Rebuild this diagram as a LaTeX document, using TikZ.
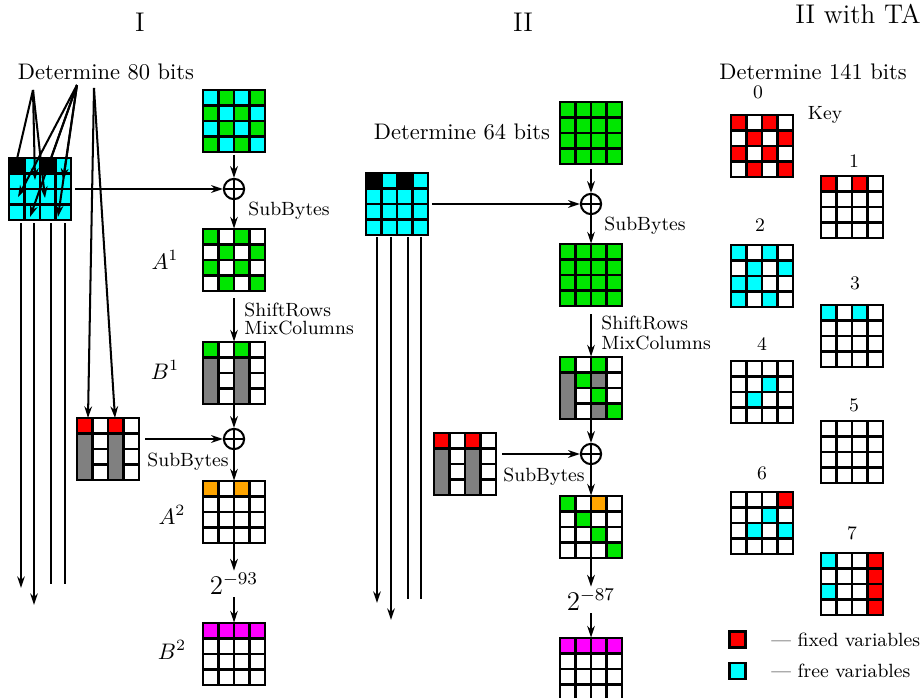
\documentclass[tikz,border=0pt]{standalone}
\usetikzlibrary{arrows.meta}
\definecolor{cg}{RGB}{0,230,0}
\definecolor{cc}{RGB}{0,255,255}
\definecolor{cr}{RGB}{255,0,0}
\definecolor{cw}{RGB}{255,255,255}
\definecolor{ck}{RGB}{0,0,0}
\definecolor{co}{RGB}{255,165,0}
\definecolor{cm}{RGB}{255,0,255}
\definecolor{ca}{RGB}{128,128,128}
\tikzset{
  gridline/.style={line width=1.1pt,draw=black},
  box/.style={minimum width=27.55pt,minimum height=27.55pt,inner sep=0pt,draw=none},
  arr/.style={line width=0.9pt,-{Stealth[length=5.2pt,width=3.4pt]}},
  ln/.style={line width=0.9pt},
  xor/.style={draw,circle,line width=0.9pt,minimum size=9pt,inner sep=0pt,
    path picture={\draw[line width=0.9pt] (path picture bounding box.north) -- (path picture bounding box.south)
      (path picture bounding box.west) -- (path picture bounding box.east);}},
  lab/.style={font=\fontsize{8.5}{10}\selectfont,inner sep=0pt},
  ttl/.style={font=\large,inner sep=0pt},
}
\newcommand\grd[4]{%
  \foreach \cl [count=\i from 0] in {#4}{%
    \pgfmathtruncatemacro\gR{int(\i/4)}%
    \pgfmathtruncatemacro\gC{mod(\i,4)}%
    \draw[gridline,fill=\cl] ({#2+\gC*15.5},{#3+\gR*15.5}) rectangle ++(15.5,15.5);%
  }%
  \node[box] (#1) at (#2+31,#3+31) {};%
}
\newcommand\gcol[3]{\draw[gridline,fill=ca] ({#1+#3*15.5},{#2+15.5}) rectangle ++(15.5,46.5);}
\begin{document}
\begin{tikzpicture}[x=0.4444pt,y=-0.4444pt]
\useasboundingbox (0,0) rectangle (920,698);
% titles
\node[ttl] (t1) at (140,22) {I};
\node[ttl] (t2) at (523,22) {II};
\node[ttl] (t3) at (858,14) {II with TA};

% ===== Column I =====
\node[inner sep=1pt] (d80) at (106,72) {Determine 80 bits};
\grd{g1}{203}{90}{cc,cg,cc,cg,cg,cc,cg,cc,cc,cg,cc,cg,cg,cc,cg,cc}
\node[xor] (x1) at (234,189) {};
\grd{s1}{9}{158}{ck,cc,ck,cc,cc,cc,cc,cc,cc,cc,cc,cc,cc,cc,cc,cc}
\grd{a1}{203}{229}{cg,cw,cg,cw,cw,cg,cw,cg,cg,cw,cg,cw,cw,cg,cw,cg}
\node (la1) at (165,260) {$A^1$};
\grd{b1}{203}{342}{cg,cw,cg,cw,cw,cw,cw,cw,cw,cw,cw,cw,cw,cw,cw,cw}
\gcol{203}{342}{0}\gcol{203}{342}{2}
\node (lb1) at (165,370) {$B^1$};
\node[xor] (x2) at (234,439) {};
\grd{k1}{77}{418}{cr,cw,cr,cw,cw,cw,cw,cw,cw,cw,cw,cw,cw,cw,cw,cw}
\gcol{77}{418}{0}\gcol{77}{418}{2}
\grd{a2}{203}{481}{co,cw,co,cw,cw,cw,cw,cw,cw,cw,cw,cw,cw,cw,cw,cw}
\node (la2) at (172,515) {$A^2$};
\node[font=\large,inner sep=1pt] (p1) at (234,584) {$2^{-93}$};
\grd{b2}{203}{623}{cm,cm,cm,cm,cw,cw,cw,cw,cw,cw,cw,cw,cw,cw,cw,cw}
\node (lb2) at (172,650) {$B^2$};

\node[lab,anchor=west] (sb1) at (248,211) {SubBytes};
\node[lab,anchor=west] (sr1) at (244,310) {ShiftRows};
\node[lab,anchor=west] (mc1) at (244,328) {MixColumns};
\node[lab,anchor=west] (sb2) at (147,462) {SubBytes};

\draw[arr,shorten <=1pt] (g1.south) -- (x1.north);
\draw[arr,shorten <=1.5pt] (s1.east |- x1.west) -- (x1.west);
\draw[arr] (x1.south) -- (a1.north);
\draw[arr,shorten <=3pt] (a1.south) -- (b1.north);
\draw[arr] (b1.south) -- (x2.north);
\draw[arr,shorten <=2.5pt] (k1.east |- x2.west) -- (x2.west);
\draw[arr] (x2.south) -- (a2.north);
\draw[arr] (a2.south) -- (p1.north);
\draw[arr] (p1.south) -- (b2.north);

% fan of arrows into s1
\coordinate (pa) at (33,90);
\coordinate (pb) at (77,85);
\coordinate (pc) at (94,88);
\coordinate (e1) at (14,172);
\coordinate (e2) at (35,180);
\coordinate (e3) at (45,198);
\coordinate (e4) at (18,197);
\coordinate (e5) at (30,217);
\coordinate (e6) at (58,217);
\coordinate (e7) at (63,180);
\coordinate (e8) at (47,170);
\foreach \e in {e1,e2,e3} \draw[arr] (pa) -- (\e);
\foreach \e in {e4,e5,e6,e7,e8} \draw[arr] (pb) -- (\e);
\coordinate (k1a) at (88,418);
\coordinate (k1b) at (115,418);
\draw[arr] (pc) -- (k1a);
\draw[arr] (pc) -- (k1b);
% vertical lines under s1
\coordinate (v1s) at (21,223); \coordinate (v1e) at (21,588);
\coordinate (v2s) at (34,223); \coordinate (v2e) at (34,605);
\coordinate (v3s) at (51,223); \coordinate (v3e) at (51,584);
\coordinate (v4s) at (65,223); \coordinate (v4e) at (65,584);
\draw[arr] (v1s) -- (v1e);
\draw[arr] (v2s) -- (v2e);
\draw[ln] (v3s) -- (v3e);
\draw[ln] (v4s) -- (v4e);

% ===== Column II =====
\node[inner sep=1pt] (d64) at (462,132) {Determine 64 bits};
\grd{g2}{560}{102}{cg,cg,cg,cg,cg,cg,cg,cg,cg,cg,cg,cg,cg,cg,cg,cg}
\node[xor] (x3) at (591,204) {};
\grd{s2}{366}{173}{ck,cc,ck,cc,cc,cc,cc,cc,cc,cc,cc,cc,cc,cc,cc,cc}
\grd{a3}{560}{244}{cg,cg,cg,cg,cg,cg,cg,cg,cg,cg,cg,cg,cg,cg,cg,cg}
\grd{b3}{560}{357}{cg,cw,cg,cw,ca,cg,ca,cw,ca,cw,cg,cw,ca,cw,ca,cg}
\gcol{560}{357}{0}
\node[xor] (x4) at (591,454) {};
\grd{k2}{434}{433}{cr,cw,cr,cw,cw,cw,cw,cw,cw,cw,cw,cw,cw,cw,cw,cw}
\gcol{434}{433}{0}\gcol{434}{433}{2}
\grd{a4}{560}{496}{cg,cw,co,cw,cw,cg,cw,cw,cw,cw,cg,cw,cw,cw,cw,cg}
\node[font=\large,inner sep=1pt] (p2) at (591,600) {$2^{-87}$};
\grd{b4}{560}{638}{cm,cm,cm,cm,cw,cw,cw,cw,cw,cw,cw,cw,cw,cw,cw,cw}

\node[lab,anchor=west] (sb3) at (604,226) {SubBytes};
\node[lab,anchor=west] (sr2) at (601,323) {ShiftRows};
\node[lab,anchor=west] (mc2) at (601,343) {MixColumns};
\node[lab,anchor=west] (sb4) at (503,477) {SubBytes};

\draw[arr,shorten <=2pt] (g2.south) -- (x3.north);
\draw[arr,shorten <=1.5pt] (s2.east |- x3.west) -- (x3.west);
\draw[arr] (x3.south) -- (a3.north);
\draw[arr,shorten <=3.5pt] (a3.south) -- (b3.north);
\draw[arr] (b3.south) -- (x4.north);
\draw[arr,shorten <=2.5pt] (k2.east |- x4.west) -- (x4.west);
\draw[arr] (x4.south) -- (a4.north);
\draw[arr] (a4.south) -- (p2.north);
\draw[arr] (p2.south) -- (b4.north);

\coordinate (w1s) at (377,237); \coordinate (w1e) at (377,603);
\coordinate (w2s) at (391,237); \coordinate (w2e) at (391,620);
\coordinate (w3s) at (408,237); \coordinate (w3e) at (408,599);
\coordinate (w4s) at (421,237); \coordinate (w4e) at (421,599);
\draw[arr] (w1s) -- (w1e);
\draw[arr] (w2s) -- (w2e);
\draw[ln] (w3s) -- (w3e);
\draw[ln] (w4s) -- (w4e);

% ===== Column III =====
\node[inner sep=1pt] (d141) at (813,72) {Determine 141 bits};
\grd{t0}{731}{115}{cr,cw,cr,cw,cw,cr,cw,cr,cr,cw,cr,cw,cw,cr,cw,cr}
\grd{t1}{821}{176}{cr,cw,cr,cw,cw,cw,cw,cw,cw,cw,cw,cw,cw,cw,cw,cw}
\grd{t2}{731}{245}{cc,cw,cc,cw,cw,cc,cw,cc,cc,cc,cw,cw,cc,cw,cc,cw}
\grd{t3}{821}{305}{cc,cw,cc,cw,cw,cw,cw,cw,cw,cw,cw,cw,cw,cw,cw,cw}
\grd{t4}{731}{361}{cw,cw,cw,cw,cw,cw,cc,cw,cw,cc,cw,cw,cw,cw,cw,cw}
\grd{t5}{821}{421}{cw,cw,cw,cw,cw,cw,cw,cw,cw,cw,cw,cw,cw,cw,cw,cw}
\grd{t6}{731}{492}{cw,cw,cw,cr,cw,cw,cc,cw,cw,cc,cw,cc,cw,cw,cw,cw}
\grd{t7}{821}{553}{cc,cw,cw,cr,cw,cw,cw,cr,cc,cw,cw,cr,cw,cw,cw,cr}
\node[lab] (l0) at (758,92) {0};
\node[lab] (lk) at (825,115) {Key};
\node[lab] (l1) at (854,161) {1};
\node[lab] (l2) at (760,225) {2};
\node[lab] (l3) at (855,283) {3};
\node[lab] (l4) at (762,344) {4};
\node[lab] (l5) at (854,405) {5};
\node[lab] (l6) at (762,473) {6};
\node[lab] (l7) at (852,533) {7};

\node[draw,line width=1.1pt,fill=cr,minimum size=7.3pt,inner sep=0pt] (kr) at (737.5,639.5) {};
\node[draw,line width=1.1pt,fill=cc,minimum size=7.3pt,inner sep=0pt] (kc) at (737.5,671) {};
\node[lab,anchor=west] (tr) at (771,640) {--- fixed variables};
\node[lab,anchor=west] (tc) at (771,671) {--- free variables};
\end{tikzpicture}
\end{document}
